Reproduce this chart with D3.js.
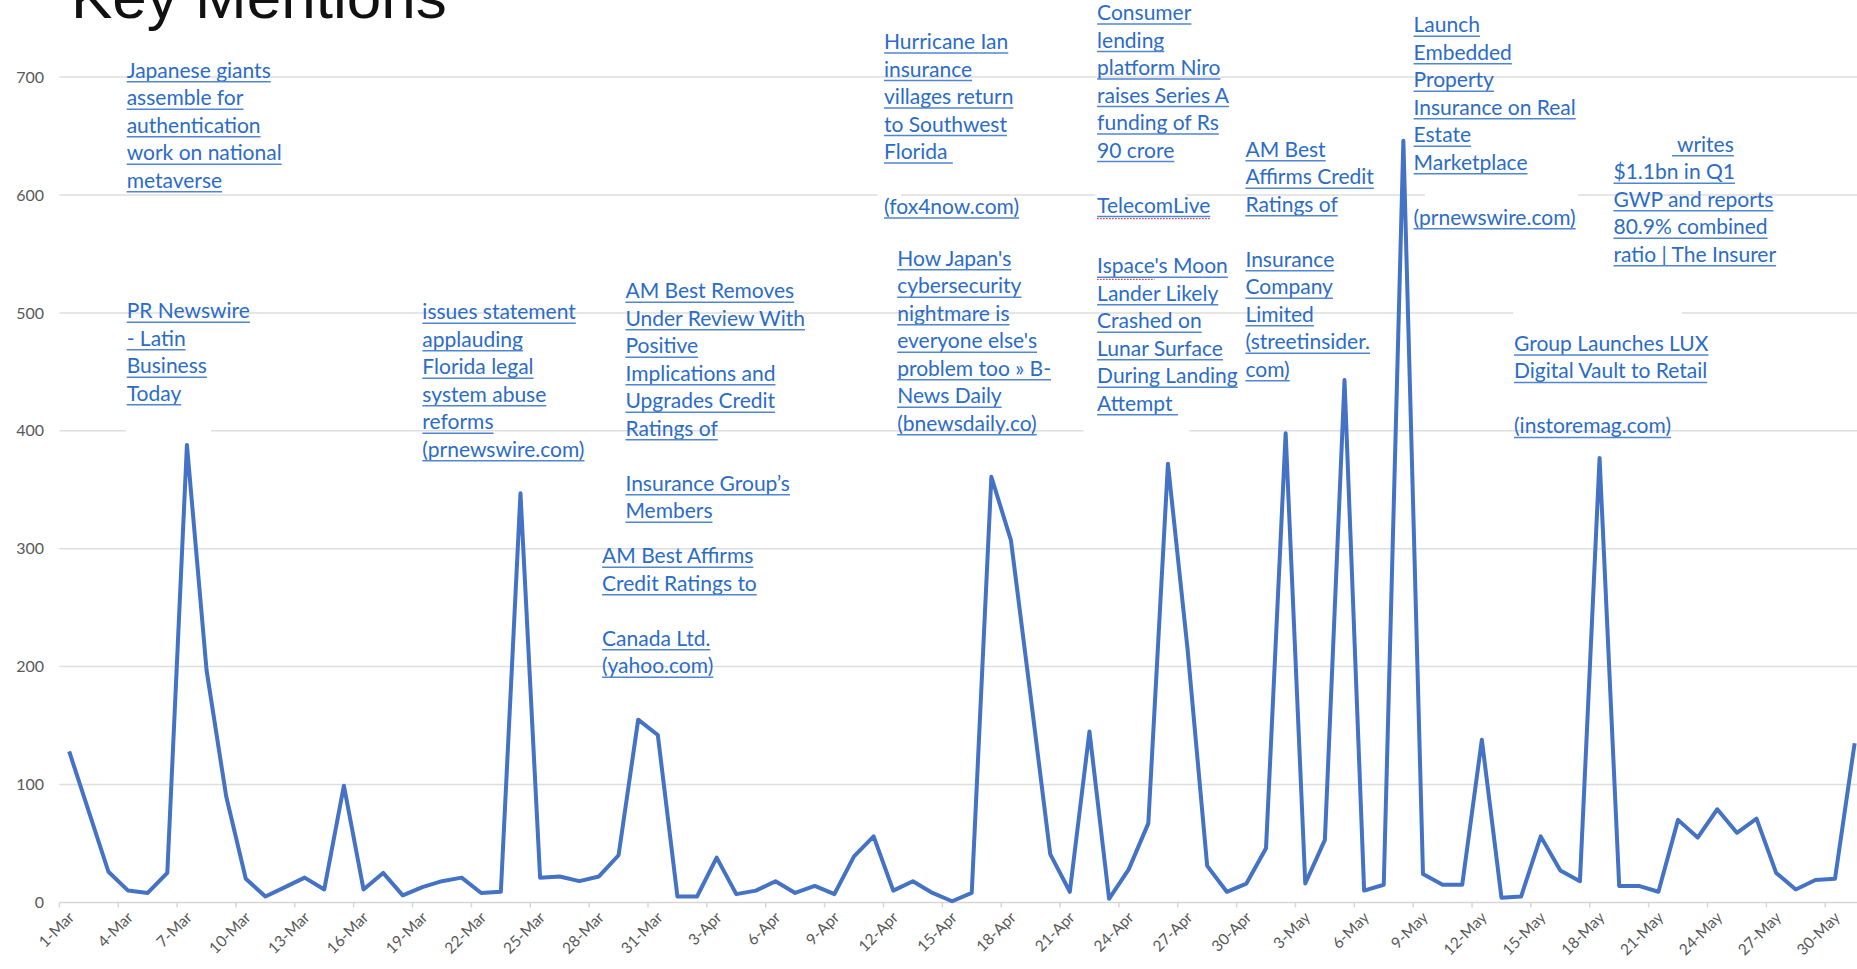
<!DOCTYPE html>
<html>
<head>
<meta charset="utf-8">
<script src="https://cdn.jsdelivr.net/npm/d3@7"></script>
<style>
  html, body { margin: 0; padding: 0; background: #fff; }
  svg { display: block; }
</style>
</head>
<body>
<script>
var width = 1857, height = 969;

// daily mentions
var mentionsMar = [128, 77, 26, 10, 8, 25, 388, 197, 90, 20, 5, 13, 21, 11, 99, 11,
                   25, 6, 13, 18, 21, 8, 9, 347, 21, 22, 18, 22, 40, 155, 142];
var mentionsApr = [5, 5, 38, 7, 10, 18, 8, 14, 7, 39, 56, 10, 18, 8, 1, 8,
                   361, 307, 175, 41, 9, 145, 3, 28, 67, 372, 215, 31, 9, 16];
var mentionsMay = [46, 398, 16, 53, 443, 10, 15, 646, 24, 15, 15, 138, 4, 5, 56, 27,
                   18, 377, 14, 14, 9, 70, 55, 79, 59, 71, 25, 11, 19, 20, 135];

var yTicks = [0, 100, 200, 300, 400, 500, 600, 700];

// news call-outs: col = position in categories, v = value at first baseline
var notes = [
  {col: 3.43, v: 699.5, lines: ["Japanese giants", "assemble for", "authentication", "work on national", "metaverse"]},
  {col: 3.43, v: 495.4, lines: ["PR Newswire", "- Latin", "Business", "Today"]},
  {col: 18.5, v: 494.6, lines: ["issues statement", "applauding", "Florida legal", "system abuse", "reforms", "(prnewswire.com)"]},
  {col: 28.85, v: 512.4, lines: ["AM Best Removes", "Under Review With", "Positive", "Implications and", "Upgrades Credit", "Ratings of", "", "Insurance Group\u2019s", "Members"]},
  {col: 27.66, v: 287.6, lines: ["AM Best Affirms", "Credit Ratings to", "", "Canada Ltd.", "(yahoo.com)"]},
  {col: 42.03, v: 723.8, lines: ["Hurricane Ian", "insurance", "villages return", "to Southwest", "Florida ", "", "(fox4now.com)"]},
  {col: 42.70, v: 540, lines: ["How Japan's", "cybersecurity", "nightmare is", "everyone else's", "problem too \u00bb B-", "News Daily", "(bnewsdaily.co)"]},
  {col: 52.89, v: 748.4, lines: ["Consumer", "lending", "platform Niro", "raises Series A", "funding of Rs", "90 crore", "", "TelecomLive"], squiggle: [7, 11]},
  {col: 52.89, v: 533.6, lines: ["Ispace's Moon", "Lander Likely", "Crashed on", "Lunar Surface", "During Landing", "Attempt "], squiggle: [0, 6]},
  {col: 60.45, v: 632.5, lines: ["AM Best", "Affirms Credit", "Ratings of", "", "Insurance", "Company", "Limited", "(streetinsider.", "com)"]},
  {col: 69.02, v: 738, lines: ["Launch", "Embedded", "Property", "Insurance on Real", "Estate", "Marketplace", "", "(prnewswire.com)"]},
  {col: 79.21, v: 636.7, indent: 58.5, lines: [" writes", "$1.1bn in Q1", "GWP and reports", "80.9% combined", "ratio | The Insurer"]},
  {col: 74.14, v: 467.7, lines: ["Group Launches LUX", "Digital Vault to Retail", "", "(instoremag.com)"]}
];

// white text-box edges that hide bits of gridlines
var boxes = [
  {c0: 3.39, c1: 7.73, v: 400},
  {c0: 41.7, c1: 42.9, v: 600},
  {c0: 52.8, c1: 57.4, v: 600},
  {c0: 69.6, c1: 77.4, v: 600},
  {c0: 74.1, c1: 82.7, v: 500},
  {c0: 52.2, c1: 57.6, v: 400}
];

var values = mentionsMar.concat(mentionsApr, mentionsMay);
var days = d3.timeDay.range(new Date(2023, 2, 1), new Date(2023, 5, 1));
var fmt = d3.timeFormat("%-d-%b");
var categories = days.map(fmt);

var svg = d3.select("body").append("svg")
  .attr("width", width)
  .attr("height", height);

var x = d3.scaleBand()
  .domain(categories)
  .range([59.4, 59.4 + 92 * 19.62]);

var y = d3.scaleLinear()
  .domain([0, 700])
  .range([902.4, 77.1]);

var colX = function (c) { return x.range()[0] + c * x.step(); };
var mid = function (d) { return x(d) + x.bandwidth() / 2; };

// gridlines
svg.append("g")
  .selectAll("line")
  .data(yTicks.slice(1))
  .enter().append("line")
  .attr("x1", x.range()[0])
  .attr("x2", width)
  .attr("y1", function (d) { return y(d); })
  .attr("y2", function (d) { return y(d); })
  .attr("stroke", "#dedede")
  .attr("stroke-width", 1.5);

svg.append("g")
  .selectAll("rect")
  .data(boxes)
  .enter().append("rect")
  .attr("x", function (d) { return colX(d.c0); })
  .attr("width", function (d) { return colX(d.c1) - colX(d.c0); })
  .attr("y", function (d) { return y(d.v) - 3; })
  .attr("height", 6)
  .attr("fill", "#fff");

// y axis labels
var yAxis = svg.append("g")
  .attr("transform", "translate(44,0)")
  .call(d3.axisLeft(y).tickValues(yTicks).tickSize(0).tickPadding(0));
yAxis.select(".domain").remove();
yAxis.selectAll("text")
  .attr("font-family", "Lato, 'Open Sans', sans-serif")
  .attr("font-size", "16px")
  .attr("fill", "#595959");

// x axis
var every3 = categories.filter(function (d, i) { return i % 3 === 0; });
svg.append("line")
  .attr("x1", x.range()[0]).attr("x2", width)
  .attr("y1", y(0)).attr("y2", y(0))
  .attr("stroke", "#d6d6d6").attr("stroke-width", 1.5);

var xAxis = svg.append("g")
  .attr("transform", "translate(0," + y(0) + ")")
  .call(d3.axisBottom(x).tickValues(every3).tickSize(5).tickPadding(0));
xAxis.select(".domain").remove();
xAxis.selectAll(".tick line")
  .attr("transform", "translate(" + (-x.bandwidth() / 2) + ",0)")
  .attr("stroke", "#d6d6d6").attr("stroke-width", 1.5);
xAxis.selectAll(".tick text")
  .attr("font-family", "Lato, 'Open Sans', sans-serif")
  .attr("font-size", "15.5px")
  .attr("fill", "#595959")
  .attr("text-anchor", "end")
  .attr("dy", null)
  .attr("y", null)
  .attr("transform", "translate(6,16) rotate(-45)");

// series
var line = d3.line()
  .x(function (d, i) { return mid(categories[i]); })
  .y(function (d) { return y(d); });

svg.append("path")
  .datum(values)
  .attr("d", line)
  .attr("fill", "none")
  .attr("stroke", "#4472c4")
  .attr("stroke-width", 4)
  .attr("stroke-linejoin", "round");

// title
svg.append("text")
  .attr("x", 71)
  .attr("y", 18)
  .attr("font-family", "'Liberation Sans', Arial, sans-serif")
  .attr("font-size", "62px")
  .attr("fill", "#111")
  .text("Key Mentions");

// call-outs
var lh = 27.5;
notes.forEach(function (n) {
  var g = svg.append("g");
  var x0 = colX(n.col), y0 = y(n.v);
  n.lines.forEach(function (s, k) {
    if (!s) return;
    var tx = x0 + (k === 0 && n.indent ? n.indent : 0);
    var ty = y0 + k * lh;
    var t = g.append("text")
      .attr("x", tx)
      .attr("y", ty)
      .attr("font-family", "Lato, 'Open Sans', sans-serif")
      .attr("font-size", "21px")
      .attr("fill", "#2b6cc9")
      .style("white-space", "pre")
      .text(s);
    var w = t.node().getComputedTextLength();
    g.append("line")
      .attr("x1", tx).attr("x2", tx + w)
      .attr("y1", ty + 4).attr("y2", ty + 4)
      .attr("stroke", "#4f86d4").attr("stroke-width", 1.4);
    if (n.squiggle && n.squiggle[0] === k) {
      var sw = t.node().getSubStringLength(0, n.squiggle[1]);
      g.append("line")
        .attr("x1", tx).attr("x2", tx + sw)
        .attr("y1", ty + 6).attr("y2", ty + 6)
        .attr("stroke", "#d9363e").attr("stroke-width", 1.3)
        .attr("stroke-dasharray", "1.5,1.5");
    }
  });
});
</script>
</body>
</html>
